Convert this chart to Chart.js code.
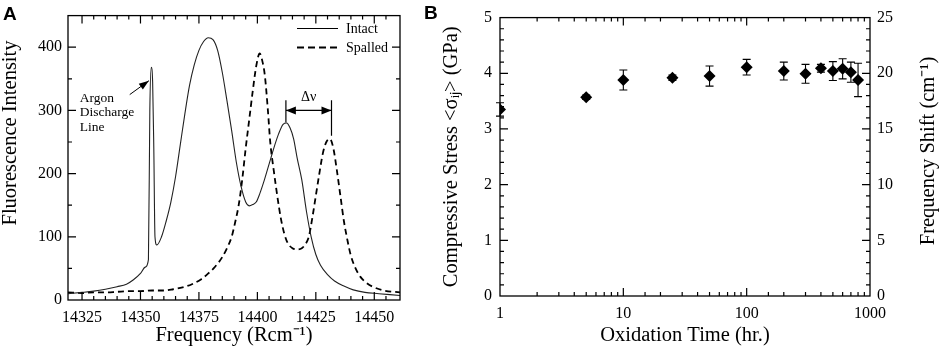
<!DOCTYPE html>
<html>
<head>
<meta charset="utf-8">
<script src="https://cdn.jsdelivr.net/npm/chart.js@4.4.0/dist/chart.umd.min.js"></script>
<style>
  body { margin: 0; background: #fff; }
  #wrap { position: relative; width: 941px; height: 348px; overflow: hidden; background: #fff; }
  canvas { position: absolute; top: 0; }
  #chartA { left: 0; }
  #chartB { left: 420px; }
  .panel { position: absolute; font: bold 19px/19px "Liberation Sans", Arial, sans-serif; color: #000; }
</style>
</head>
<body>
<div id="wrap">
  <canvas id="chartA" width="420" height="348"></canvas>
  <canvas id="chartB" width="521" height="348"></canvas>
  <div class="panel" style="left:3px;top:4px">A</div>
  <div class="panel" style="left:424px;top:3px">B</div>
</div>
<script>
// --- Panel A : spectres de fluorescence ---
const intactFreq = [14319, 14325, 14330, 14335, 14340, 14344, 14347, 14350, 14352, 14353.4,
  14354.0, 14354.6, 14355.2, 14355.7, 14356.2, 14357, 14359, 14361, 14363, 14365,
  14367, 14369, 14371, 14373, 14375, 14377, 14379, 14381, 14383, 14385,
  14387, 14389, 14391, 14393, 14395, 14396.5, 14398, 14399.5, 14401, 14403,
  14405, 14407, 14409, 14411, 14412.5, 14414, 14415.5, 14417, 14419, 14421,
  14423, 14425, 14427, 14430, 14433, 14437, 14441, 14446, 14452, 14461];
const intactIntensity = [10, 12, 14, 17, 21, 25, 32, 42, 52, 64,
  300, 368, 345, 240, 100, 87, 100, 125, 155, 195,
  245, 295, 340, 372, 395, 409, 415, 412, 395, 360,
  315, 268, 218, 180, 155, 149, 151, 155, 168, 190,
  215, 240, 262, 278, 280, 272, 255, 225, 190, 140,
  100, 72, 55, 40, 30, 22, 16, 12, 10, 7];

const spalledFreq = [14319, 14325, 14330, 14335, 14340, 14345, 14350, 14355, 14360, 14364,
  14368, 14372, 14376, 14379, 14382, 14385, 14387, 14389, 14390.5, 14392,
  14393.5, 14395, 14396.5, 14398, 14399.5, 14401, 14402, 14403.2, 14404.5, 14405.5,
  14407, 14408.5, 14410, 14411.5, 14413, 14415, 14417, 14419, 14420.5, 14422,
  14423.5, 14425, 14426.5, 14428, 14429.5, 14431, 14432.5, 14434, 14435.5, 14437,
  14438.5, 14440, 14442, 14444, 14447, 14450, 14454, 14461];
const spalledIntensity = [12, 11, 12, 12, 13, 14, 14, 15, 15, 17,
  20, 25, 33, 42, 53, 68, 82, 100, 123, 150,
  190, 240, 285, 330, 370, 390, 380, 355, 300, 250,
  205, 165, 130, 105, 90, 82, 80, 82, 88, 100,
  130, 165, 200, 232, 250, 255, 240, 205, 165, 125,
  95, 70, 50, 37, 26, 20, 15, 12];

const freqTickLabels = [14325, 14350, 14375, 14400, 14425, 14450];
const intensityTickLabels = [0, 100, 200, 300, 400];

// --- Panel B : contrainte vs temps d'oxydation ---
const oxidationHours = [1, 5, 10, 25, 50, 100, 200, 300, 400, 500, 600, 700, 800];
const stressGPa = [3.35, 3.57, 3.88, 3.92, 3.95, 4.11, 4.04, 3.99, 4.09, 4.04, 4.08, 4.02, 3.88];
const stressErr = [0.12, 0.04, 0.18, 0.05, 0.18, 0.14, 0.16, 0.17, 0.07, 0.17, 0.18, 0.18, 0.30];

const timeTickLabels = [1, 10, 100, 1000];
const stressTickLabels = [0, 1, 2, 3, 4, 5];
const shiftTickLabels = [0, 5, 10, 15, 20, 25];

const SERIF = '"Liberation Serif", "Times New Roman", serif';
Chart.defaults.color = '#000';
Chart.defaults.font.family = SERIF;

const labelIf = list => v => {
  const r = Math.round(v * 1000) / 1000;
  return list.includes(r) ? String(r) : '';
};

// cadre + graduations vers l'intérieur
const frameTicks = {
  id: 'frameTicks',
  afterDatasetsDraw(chart, args, opts) {
    const { ctx, chartArea: a } = chart;
    ctx.save();
    ctx.strokeStyle = '#000';
    ctx.lineWidth = 1.3;
    ctx.strokeRect(a.left, a.top, a.right - a.left, a.bottom - a.top);
    ctx.lineWidth = 1.2;
    ctx.beginPath();
    Object.entries(opts.sides || {}).forEach(([id, sides]) => {
      const scale = chart.scales[id];
      scale.ticks.forEach(t => {
        const len = t.label ? 8 : 4;
        const p = scale.getPixelForValue(t.value);
        if (scale.isHorizontal()) {
          if (p < a.left + 1.5 || p > a.right - 1.5) return;
          if (sides.includes('bottom')) { ctx.moveTo(p, a.bottom); ctx.lineTo(p, a.bottom - len); }
          if (sides.includes('top')) { ctx.moveTo(p, a.top); ctx.lineTo(p, a.top + len); }
        } else {
          if (p < a.top + 1.5 || p > a.bottom - 1.5) return;
          if (sides.includes('left')) { ctx.moveTo(a.left, p); ctx.lineTo(a.left + len, p); }
          if (sides.includes('right')) { ctx.moveTo(a.right, p); ctx.lineTo(a.right - len, p); }
        }
      });
    });
    ctx.stroke();
    ctx.restore();
  }
};

function arrowHead(ctx, x0, y0, x1, y1, len, half) {
  const ang = Math.atan2(y1 - y0, x1 - x0);
  ctx.beginPath();
  ctx.moveTo(x1, y1);
  ctx.lineTo(x1 - len * Math.cos(ang) + half * Math.sin(ang), y1 - len * Math.sin(ang) - half * Math.cos(ang));
  ctx.lineTo(x1 - len * Math.cos(ang) - half * Math.sin(ang), y1 - len * Math.sin(ang) + half * Math.cos(ang));
  ctx.closePath();
  ctx.fill();
}

// légende, annotations et titre vertical du panneau A
const annotA = {
  id: 'annotA',
  afterDraw(chart) {
    const { ctx, scales: { x, y }, chartArea: a } = chart;
    const X = v => x.getPixelForValue(v), Y = v => y.getPixelForValue(v);
    ctx.save();
    ctx.fillStyle = '#000';
    ctx.strokeStyle = '#000';

    // légende
    const lx0 = a.right - 103, lx1 = a.right - 62;
    ctx.lineWidth = 1;
    ctx.beginPath(); ctx.moveTo(lx0, 28.5); ctx.lineTo(lx1, 28.5); ctx.stroke();
    ctx.lineWidth = 1.8;
    ctx.setLineDash([7, 4]);
    ctx.beginPath(); ctx.moveTo(lx0, 47.5); ctx.lineTo(lx1, 47.5); ctx.stroke();
    ctx.setLineDash([]);
    ctx.font = '14px ' + SERIF;
    ctx.textAlign = 'left';
    ctx.textBaseline = 'middle';
    ctx.fillText('Intact', a.right - 54, 29);
    ctx.fillText('Spalled', a.right - 54, 48);

    // raie de décharge d'argon
    ctx.font = '13.5px ' + SERIF;
    ctx.fillText('Argon', X(14324), Y(319));
    ctx.fillText('Discharge', X(14324), Y(296));
    ctx.fillText('Line', X(14324), Y(273));
    ctx.lineWidth = 1;
    const ax0 = X(14345.4), ay0 = Y(325), ax1 = X(14353.6), ay1 = Y(347);
    ctx.beginPath(); ctx.moveTo(ax0, ay0); ctx.lineTo(ax1, ay1); ctx.stroke();
    arrowHead(ctx, ax0, ay0, ax1, ay1, 10, 3.5);

    // Δν
    const l = X(14412.2), r = X(14431.7), ya = Y(300);
    ctx.lineWidth = 1.2;
    ctx.beginPath();
    ctx.moveTo(l, Y(316)); ctx.lineTo(l, Y(281));
    ctx.moveTo(r, Y(316)); ctx.lineTo(r, Y(260));
    ctx.moveTo(l, ya); ctx.lineTo(r, ya);
    ctx.stroke();
    arrowHead(ctx, r, ya, l, ya, 10, 4);
    arrowHead(ctx, l, ya, r, ya, 10, 4);
    ctx.font = '14px ' + SERIF;
    ctx.textAlign = 'center';
    ctx.fillText('Δν', (l + r) / 2, Y(321));

    // titre de l'axe Y
    ctx.font = '20.5px ' + SERIF;
    ctx.translate(10.5, 133);
    ctx.rotate(-Math.PI / 2);
    ctx.fillText('Fluorescence Intensity', 0, 0);
    ctx.restore();
  }
};

// barres d'erreur + titre de droite du panneau B
const errorBars = {
  id: 'errorBars',
  afterDatasetsDraw(chart) {
    const { ctx, scales: { x, y } } = chart;
    ctx.save();
    ctx.strokeStyle = '#000';
    ctx.lineWidth = 1.1;
    ctx.beginPath();
    oxidationHours.forEach((t, i) => {
      const px = x.getPixelForValue(t);
      const top = y.getPixelForValue(stressGPa[i] + stressErr[i]);
      const bot = y.getPixelForValue(stressGPa[i] - stressErr[i]);
      ctx.moveTo(px, top); ctx.lineTo(px, bot);
      ctx.moveTo(px - 4, top); ctx.lineTo(px + 4, top);
      ctx.moveTo(px - 4, bot); ctx.lineTo(px + 4, bot);
    });
    ctx.stroke();
    ctx.restore();
  },
  afterDraw(chart) {
    const { ctx } = chart;
    ctx.save();
    ctx.fillStyle = '#000';
    ctx.font = '20.5px ' + SERIF;
    ctx.textAlign = 'center';
    ctx.textBaseline = 'middle';
    ctx.translate(509, 151);
    ctx.rotate(-Math.PI / 2);
    ctx.fillText('Frequency Shift (cm⁻¹)', 0, 0);
    ctx.restore();
  }
};

const tickFont = { size: 16, family: SERIF };
const titleFont = { size: 20.5, family: SERIF };
const noGrid = { display: false, drawTicks: false };

new Chart(document.getElementById('chartA'), {
  type: 'scatter',
  data: {
    datasets: [
      {
        label: 'Intact',
        data: intactFreq.map((f, i) => ({ x: f, y: intactIntensity[i] })),
        showLine: true,
        borderColor: '#222',
        borderWidth: 1.1,
        pointRadius: 0,
        cubicInterpolationMode: 'monotone'
      },
      {
        label: 'Spalled',
        data: spalledFreq.map((f, i) => ({ x: f, y: spalledIntensity[i] })),
        showLine: true,
        borderColor: '#000',
        borderWidth: 1.8,
        borderDash: [6, 4],
        pointRadius: 0,
        cubicInterpolationMode: 'monotone'
      }
    ]
  },
  options: {
    responsive: false,
    animation: false,
    layout: { padding: { top: 7, right: 20, left: 0, bottom: 0 } },
    plugins: {
      legend: { display: false },
      tooltip: { enabled: false },
      frameTicks: { sides: { x: ['bottom', 'top'], y: ['left', 'right'] } }
    },
    scales: {
      x: {
        type: 'linear', min: 14319, max: 14461,
        afterFit: s => { s.height = 48; },
        grid: noGrid, border: { display: false },
        ticks: { stepSize: 5, autoSkip: false, maxRotation: 0, padding: 8, font: tickFont, callback: labelIf(freqTickLabels) },
        title: { display: true, text: 'Frequency (Rcm⁻¹)', font: titleFont, padding: { top: 0, bottom: 0 } }
      },
      y: {
        min: 0, max: 450,
        afterFit: s => { s.width = 68; },
        grid: noGrid, border: { display: false },
        ticks: { stepSize: 50, autoSkip: false, padding: 6, font: tickFont, callback: labelIf(intensityTickLabels) }
      }
    }
  },
  plugins: [frameTicks, annotA]
});

new Chart(document.getElementById('chartB'), {
  type: 'scatter',
  data: {
    datasets: [{
      label: 'Stress',
      data: oxidationHours.map((t, i) => ({ x: t, y: stressGPa[i] })),
      pointStyle: 'rectRot',
      pointRadius: 6,
      backgroundColor: '#000',
      borderColor: '#000',
      borderWidth: 0
    }]
  },
  options: {
    responsive: false,
    animation: false,
    layout: { padding: { top: 8, right: 0, left: 0, bottom: 0 } },
    plugins: {
      legend: { display: false },
      tooltip: { enabled: false },
      frameTicks: { sides: { x: ['bottom', 'top'], y: ['left'], y2: ['right'] } }
    },
    scales: {
      x: {
        type: 'logarithmic', min: 1, max: 1000,
        afterFit: s => { s.height = 52; },
        grid: noGrid, border: { display: false },
        ticks: { autoSkip: false, maxRotation: 0, padding: 8, font: tickFont, callback: labelIf(timeTickLabels) },
        title: { display: true, text: 'Oxidation Time (hr.)', font: titleFont, padding: { top: 0, bottom: 0 } }
      },
      y: {
        min: 0, max: 5,
        afterFit: s => { s.width = 80; },
        grid: noGrid, border: { display: false },
        ticks: { stepSize: 0.2, autoSkip: false, padding: 8, font: tickFont, callback: labelIf(stressTickLabels) },
        title: { display: true, text: 'Compressive Stress <σᵢⱼ> (GPa)', font: titleFont, padding: { top: 19, bottom: 0 } }
      },
      y2: {
        position: 'right', min: 0, max: 25,
        afterFit: s => { s.width = 71; },
        grid: noGrid, border: { display: false },
        ticks: { stepSize: 1, autoSkip: false, padding: 7, font: tickFont, callback: labelIf(shiftTickLabels) }
      }
    }
  },
  plugins: [frameTicks, errorBars]
});
</script>
</body>
</html>
